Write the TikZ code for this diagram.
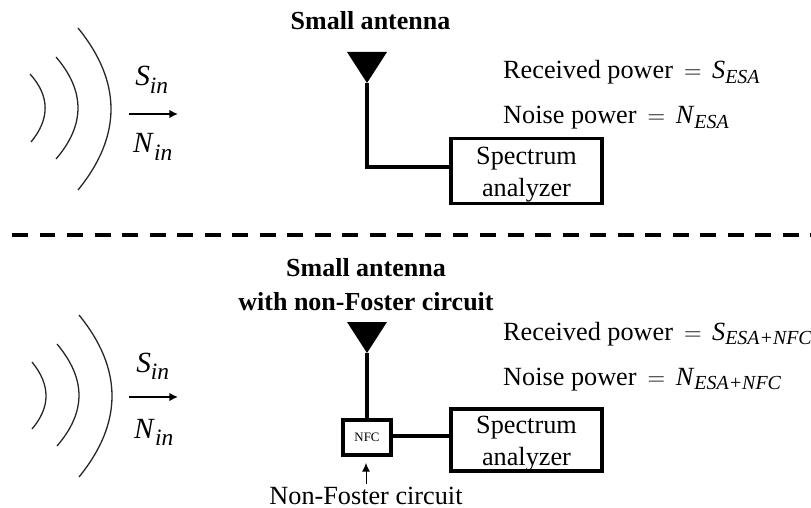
\documentclass[tikz,border=0pt]{standalone}
\usepackage{fontspec}
\setmainfont{Liberation Serif}
\usetikzlibrary{arrows.meta}
\tikzset{
  txt/.style={inner sep=0pt, font=\fontsize{22.4}{27.5}\selectfont},
  ttl/.style={txt, font=\fontsize{22.2}{28.2}\selectfont\bfseries, align=center},
  lab/.style={txt, anchor=base west},
  sym/.style={txt, anchor=base},
  wave/.style={line width=1.1pt, black!85},
  wire/.style={line width=3.1pt},
  specbox/.style={draw, txt, align=center, minimum width=4.53cm, line width=3.1pt},
  nfcbox/.style={draw, line width=3.4pt, inner sep=0pt, minimum width=1.44cm, minimum height=1.05cm, font=\fontsize{11}{13}\selectfont},
  sig/.style={line width=2.1pt, -{Latex[length=2.6mm,width=2.6mm]}},
}
\newcommand{\spectext}{\rule{0pt}{21pt}Spectrum\\analyzer}
\newcommand{\qty}[2]{\textit{#1}$_{\mbox{\fontsize{17}{19}\selectfont\textit{#2}}}$}
\newcommand{\insym}[1]{{\fontsize{25}{27}\selectfont\textit{#1}}$_{\mbox{\fontsize{20}{22}\selectfont\textit{in}}}$}
\newcommand{\eqsign}{\hspace{9.5pt}$=$\hspace{9pt}}
\begin{document}
\begin{tikzpicture}[x=0.03cm, y=-0.03cm]
\useasboundingbox (0,0) rectangle (811,508);
% top half
\coordinate (W_0_a) at (78,28);
\coordinate (W_0_b) at (122,82);
\coordinate (W_0_d) at (122,136);
\coordinate (W_0_c) at (78,190);
\draw[wave] (W_0_a) .. controls (W_0_b) and (W_0_d) .. (W_0_c);
\coordinate (W_1_a) at (56,57);
\coordinate (W_1_b) at (85.3,91);
\coordinate (W_1_d) at (85.3,125);
\coordinate (W_1_c) at (56,159);
\draw[wave] (W_1_a) .. controls (W_1_b) and (W_1_d) .. (W_1_c);
\coordinate (W_2_a) at (30,74);
\coordinate (W_2_b) at (50,96);
\coordinate (W_2_d) at (50,119);
\coordinate (W_2_c) at (31,142);
\draw[wave] (W_2_a) .. controls (W_2_b) and (W_2_d) .. (W_2_c);
\node[sym] (S_0) at (152,86) {\insym{S}};
\node[sym] (N_0) at (153,153) {\insym{N}};
\coordinate (A_0_a) at (129,114);
\coordinate (A_0_b) at (178,114);
\draw[sig] (A_0_a) -- (A_0_b);
\node[ttl, anchor=base] (T_0) at (370.5,30) {Small antenna};
\coordinate (P_0_l) at (347,52);
\coordinate (P_0_r) at (387,52);
\coordinate (P_0_t) at (367,83);
\fill (P_0_l) -- (P_0_r) -- (P_0_t) -- cycle;
\node[specbox, minimum height=1.95cm] (B_0) at (526.5,171) {\spectext};
\coordinate (P_0_c) at (367,167);
\coordinate (P_0_e) at (449,167);
\draw[wire, line join=miter] (P_0_t) -- (P_0_c) -- (P_0_e);
\node[lab] (R_0) at (503,79) {Received power\eqsign\qty{S}{ESA}};
\node[lab] (M_0) at (503,124) {Noise power\eqsign\qty{N}{ESA}};
% divider
\coordinate (D_a) at (12,235);
\coordinate (D_b) at (811,235);
\draw[line width=3pt, dash pattern=on 13.6pt off 9.9pt] (D_a) -- (D_b);
% bottom half
\coordinate (W_3_a) at (79,315);
\coordinate (W_3_b) at (123,369);
\coordinate (W_3_d) at (123,423);
\coordinate (W_3_c) at (79,477);
\draw[wave] (W_3_a) .. controls (W_3_b) and (W_3_d) .. (W_3_c);
\coordinate (W_4_a) at (57,344);
\coordinate (W_4_b) at (86.3,379);
\coordinate (W_4_d) at (86.3,412);
\coordinate (W_4_c) at (57,446);
\draw[wave] (W_4_a) .. controls (W_4_b) and (W_4_d) .. (W_4_c);
\coordinate (W_5_a) at (32,362);
\coordinate (W_5_b) at (50.7,385);
\coordinate (W_5_d) at (50.7,407);
\coordinate (W_5_c) at (32,429);
\draw[wave] (W_5_a) .. controls (W_5_b) and (W_5_d) .. (W_5_c);
\node[sym] (S_1) at (153,372) {\insym{S}};
\node[sym] (N_1) at (154,438) {\insym{N}};
\coordinate (A_1_a) at (129,397);
\coordinate (A_1_b) at (178,397);
\draw[sig] (A_1_a) -- (A_1_b);
\node[ttl, anchor=base] (T_1) at (366,310) {Small antenna\\with non-Foster circuit};
\coordinate (P_1_l) at (347,322);
\coordinate (P_1_r) at (387,322);
\coordinate (P_1_t) at (367,353);
\fill (P_1_l) -- (P_1_r) -- (P_1_t) -- cycle;
\node[nfcbox] (F_1) at (367,437.5) {NFC};
\node[specbox, minimum height=1.86cm, line width=3.4pt] (B_1) at (526.5,440) {\spectext};
\draw[wire] (P_1_t) -- (F_1.north);
\coordinate (P_1_s) at (393,436);
\coordinate (P_1_e) at (449,436);
\draw[wire] (P_1_s) -- (P_1_e);
\node[lab] (R_1) at (503,340) {Received power\eqsign\qty{S}{ESA+NFC}};
\node[lab] (M_1) at (503,385) {Noise power\eqsign\qty{N}{ESA+NFC}};
\node[sym] (L_1) at (366,504) {Non-Foster circuit};
\coordinate (L_1_a) at (366,484);
\coordinate (L_1_b) at (366,463);
\draw[line width=0.8pt, -{Latex[length=2.6mm,width=2.4mm]}] (L_1_a) -- (L_1_b);
\end{tikzpicture}
\end{document}
